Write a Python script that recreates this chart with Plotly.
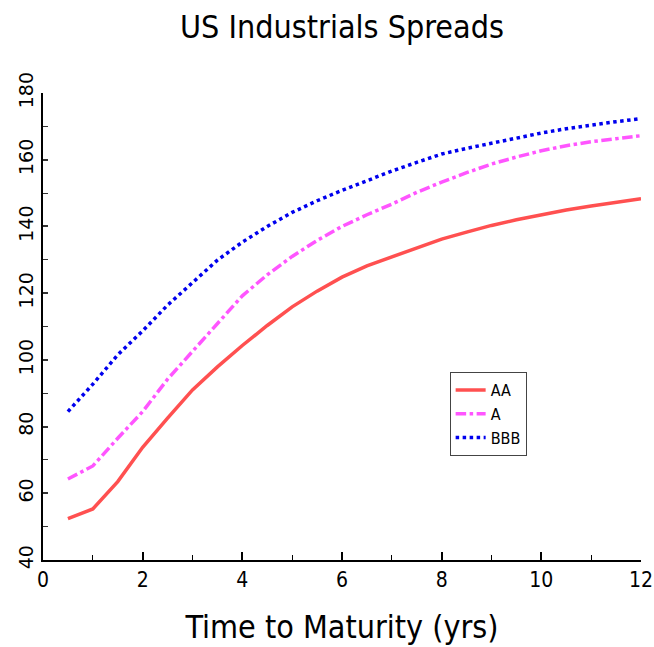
import plotly.graph_objects as go

maturity = [0.5, 1, 1.5, 2, 2.5, 3, 3.5, 4, 4.5, 5, 5.5, 6, 6.5, 7, 7.5, 8, 8.5, 9, 9.5, 10, 10.5, 11, 11.5, 12]
aa = [52.4, 55.3, 63.5, 73.8, 82.5, 91.0, 97.9, 104.3, 110.3, 115.9, 120.6, 124.8, 128.2, 130.9, 133.7, 136.2, 138.3, 140.3, 142.0, 143.5, 144.9, 146.1, 147.3, 148.3]
a = [64.3, 68.2, 76.5, 84.5, 94.2, 102.6, 111.1, 119.2, 125.5, 131.0, 135.8, 140.0, 143.5, 146.7, 150.2, 153.3, 156.1, 158.7, 160.8, 162.7, 164.2, 165.4, 166.3, 167.2]
bbb = [84.5, 92.7, 101.5, 108.7, 116.4, 123.3, 129.9, 135.3, 140.0, 144.2, 147.7, 150.8, 153.7, 156.6, 159.2, 161.7, 163.4, 165.0, 166.5, 168.0, 169.3, 170.4, 171.4, 172.3]

FONT = "Liberation Sans Narrow, DejaVu Sans Condensed, Arial Narrow, sans-serif"

fig = go.Figure()
fig.add_trace(go.Scatter(x=maturity, y=aa, name="AA", mode="lines",
                         line=dict(color="#ff5050", width=3.5)))
fig.add_trace(go.Scatter(x=maturity, y=a, name="A", mode="lines",
                         line=dict(color="#ff55ff", width=3.5, dash="dashdot")))
fig.add_trace(go.Scatter(x=maturity, y=bbb, name="BBB", mode="lines",
                         line=dict(color="#0000ee", width=3.5, dash="dot")))

fig.update_layout(
    width=654, height=647,
    margin=dict(l=43, r=13, t=93, b=87),
    paper_bgcolor="white", plot_bgcolor="white",
    title=dict(text="US Industrials Spreads", x=0.5, xref="paper", xanchor="center",
               y=1 - 27 / 647, yanchor="middle",
               font=dict(family=FONT, size=32, color="black")),
    font=dict(family=FONT, color="black"),
    showlegend=True,
    legend=dict(x=0.68, y=0.4026, xanchor="left", yanchor="top",
                bgcolor="white", bordercolor="#444444", borderwidth=1,
                font=dict(family=FONT, size=16, color="black"),
                tracegroupgap=3, itemwidth=30),
    xaxis=dict(range=[0, 12], dtick=2, tick0=0, showgrid=False, zeroline=False,
               automargin=False,
               showline=True, linecolor="black", linewidth=2,
               ticks="inside", ticklen=8, tickwidth=1.5, tickcolor="black",
               minor=dict(dtick=1, ticks="inside", ticklen=5, tickwidth=1.2, tickcolor="black"),
               tickfont=dict(family=FONT, size=21, color="black"),
               title=dict(text="Time to Maturity (yrs)", standoff=24,
                          font=dict(family=FONT, size=32, color="black"))),
    yaxis=dict(range=[40, 180], dtick=20, tick0=40, showgrid=False, zeroline=False,
               automargin=False,
               showline=True, linecolor="black", linewidth=2,
               ticks="inside", ticklen=5, tickwidth=1.5, tickcolor="#333333",
               minor=dict(dtick=10, ticks="inside", ticklen=5, tickwidth=1.2, tickcolor="#333333"),
               tickangle=-90,
               tickfont=dict(family="DejaVu Sans, sans-serif", size=19, color="black")),
)

fig.write_html("out.html",
               config={"displayModeBar": False},
               post_script="document.body.style.margin='0';document.body.style.overflow='hidden';")
